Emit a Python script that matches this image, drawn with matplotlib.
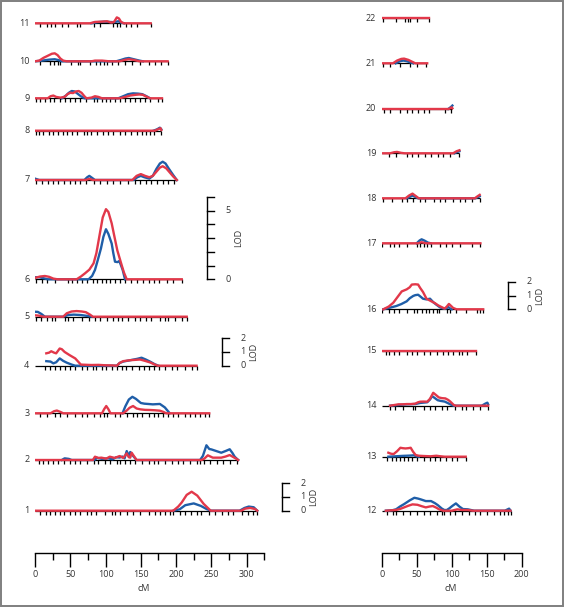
import matplotlib
matplotlib.use("Agg")
import matplotlib.pyplot as plt
import matplotlib.patches as patches
import numpy as np

plt.rcParams['font.family'] = ['Open Sans', 'DejaVu Sans']

BLUE = '#1f5ea8'
RED = '#e2384a'
TXT = '#333333'

# chromosome lengths (cM)
length = {1: 315, 2: 288, 3: 247, 4: 229, 5: 215, 6: 208, 7: 201, 8: 179, 9: 180, 10: 188, 11: 164,
          12: 184, 13: 120, 14: 152, 15: 134, 16: 145, 17: 141, 18: 140, 19: 111, 20: 101, 21: 65, 22: 67}

# marker positions (cM)
mk1 = [7, 16, 21, 28, 35, 41, 50, 57, 64, 73, 80, 87, 99, 109, 113, 120, 130, 139, 149, 161, 170, 177,
       184, 191, 196, 205, 213, 221, 229, 236, 246, 255, 265, 274, 281, 293, 302, 309, 315]
mk2 = [5, 12, 19, 26, 33, 41, 50, 57, 64, 73, 83, 90, 99, 106, 116, 121, 128, 135, 142, 151, 161, 168,
       175, 184, 194, 203, 210, 220, 229, 234, 240, 248, 258, 267, 276, 287]
mk3 = [7, 17, 28, 36, 45, 57, 66, 74, 83, 92, 98, 102, 113, 121, 130, 139, 144, 151, 161, 168, 175,
       182, 189, 196, 203, 213, 220, 227, 234, 241, 247]
mk4 = [14, 21, 28, 36, 43, 50, 57, 66, 74, 82, 87, 95, 101, 109, 116, 123, 129, 137, 147, 154, 161,
       168, 176, 184, 194, 201, 213, 222, 229]
mk5 = [1, 8, 17, 24, 28, 43, 47, 54, 66, 76, 85, 92, 102, 111, 118, 123, 132, 142, 149, 158, 165,
       177, 184, 189, 199, 208, 215]
mk6 = [1, 10, 17, 28, 47, 52, 59, 66, 74, 82, 88, 95, 101, 106, 113, 121, 128, 136, 144, 153, 161,
       169, 176, 187, 196, 208]
mk7 = [1, 10, 18, 26, 33, 41, 50, 57, 64, 72, 83, 92, 102, 111, 121, 132, 142, 149, 157, 165, 173,
       181, 189, 197]
mk8 = [1, 6, 12, 20, 26, 33, 40, 45, 53, 60, 69, 74, 80, 88, 97, 104, 111, 120, 128, 136, 144, 151,
       158, 163, 168, 179]
mk9 = [1, 7, 14, 21, 27, 36, 43, 50, 57, 64, 72, 83, 88, 95, 101, 106, 113, 121, 128, 135, 142, 149,
       156, 163, 175, 180]
mk10 = [7, 21, 27, 32, 36, 51, 61, 64, 78, 87, 92, 98, 102, 109, 118, 128, 137, 149, 161, 170, 178, 188]
mk11 = [7, 17, 22, 28, 38, 47, 60, 64, 83, 92, 111, 116, 120, 129, 136, 144, 164]
mk12 = [7, 16, 21, 31, 40, 50, 60, 69, 79, 86, 89, 98, 105, 114, 124, 133, 140, 150, 160, 169, 174,
        181, 184]
mk13 = [7, 14, 21, 26, 32, 38, 43, 51, 60, 69, 76, 83, 92, 101, 108, 120]
mk14 = [12, 19, 31, 45, 48, 60, 69, 76, 86, 93, 105, 114, 121, 131, 140, 152]
mk15 = [6, 11, 17, 25, 36, 43, 51, 60, 69, 79, 87, 95, 102, 110, 114, 122, 134]
mk16 = [1, 11, 18, 25, 36, 46, 51, 57, 63, 68, 73, 79, 82, 93, 98, 106, 121, 136, 141, 145]
mk17 = [1, 12, 17, 25, 36, 51, 55, 60, 64, 71, 83, 92, 101, 112, 129, 141]
mk18 = [2, 14, 29, 36, 44, 55, 62, 74, 83, 90, 102, 112, 119, 129, 140]
mk19 = [10, 21, 36, 43, 52, 62, 71, 81, 88, 98, 110]
mk20 = [3, 12, 26, 36, 43, 52, 60, 68, 90, 99]
mk21 = [2, 12, 26, 41, 51, 63]
mk22 = [2, 21, 33, 37, 40, 51, 67]

# LOD curves, (cM, LOD)
blue1 = [(196, 0), (205, 0.1), (213, 0.4), (225, 0.53), (235, 0.35), (244, 0.1), (250, 0),
         (290, 0), (297, 0.2), (303, 0.3), (310, 0.25), (315, 0)]
red1 = [(0, 0), (196, 0), (203, 0.3), (208, 0.6), (215, 1.15), (222, 1.38), (230, 1.1), (239, 0.5),
        (249, 0), (292, 0), (298, 0.15), (305, 0.2), (312, 0.12), (315, 0)]
blue2 = [(38, 0), (42, 0.12), (48, 0.08), (52, 0), (84, 0), (88, 0.15), (95, 0.08), (104, 0.12),
         (110, 0.05), (115, 0.2), (120, 0.18), (124, 0.25), (127, 0.12), (130, 0.65), (133, 0.3),
         (135, 0.58), (139, 0.3), (144, 0), (234, 0), (238, 0.3), (243, 1.07), (247, 0.8), (250, 0.77),
         (257, 0.65), (264, 0.53), (270, 0.65), (276, 0.78), (280, 0.5), (283, 0.24), (288, 0)]
red2 = [(0, 0), (82, 0), (85, 0.24), (90, 0.15), (94, 0.17), (101, 0.1), (106, 0.24), (113, 0.15),
        (120, 0.29), (125, 0.15), (130, 0.48), (133, 0.2), (135, 0.17), (137, 0.53), (140, 0.3),
        (144, 0), (236, 0), (240, 0.1), (245, 0.34), (252, 0.17), (264, 0.17), (270, 0.25), (276, 0.36),
        (285, 0.1), (288, 0)]
blue3 = [(124, 0), (128, 0.5), (133, 1.0), (138, 1.2), (143, 1.05), (150, 0.75), (155, 0.7),
         (160, 0.68), (167, 0.65), (177, 0.68), (184, 0.43), (191, 0)]
red3 = [(0, 0), (22, 0), (27, 0.15), (31, 0.2), (36, 0.1), (40, 0), (95, 0), (98, 0.3), (101, 0.53),
        (104, 0.3), (107, 0), (125, 0), (130, 0.2), (134, 0.4), (139, 0.53), (144, 0.35), (149, 0.29),
        (156, 0.25), (163, 0.24), (170, 0.22), (177, 0.19), (182, 0.1), (186, 0), (247, 0)]
blue4 = [(16, 0.33), (22, 0.3), (26, 0.17), (30, 0.25), (35, 0.53), (40, 0.35), (45, 0.22),
         (52, 0.08), (57, 0), (116, 0), (120, 0.2), (125, 0.3), (135, 0.4), (145, 0.5), (151, 0.58),
         (157, 0.45), (163, 0.3), (170, 0.1), (175, 0)]
red4 = [(16, 0.9), (20, 0.95), (23, 1.05), (27, 0.95), (30, 0.9), (35, 1.25), (38, 1.2), (42, 1.0),
        (49, 0.77), (57, 0.53), (62, 0.25), (65, 0.08), (80, 0.05), (90, 0.06), (100, 0.03), (110, 0.02),
        (116, 0), (120, 0.2), (125, 0.33), (135, 0.4), (149, 0.45), (156, 0.35), (163, 0.24),
        (170, 0.08), (174, 0), (229, 0)]
blue5 = [(0, 0.36), (4, 0.35), (9, 0.2), (14, 0), (40, 0), (47, 0.12), (55, 0.15), (65, 0.12),
         (75, 0.05), (80, 0)]
red5 = [(0, 0.1), (5, 0.08), (12, 0), (40, 0), (45, 0.25), (52, 0.38), (59, 0.41), (66, 0.38),
        (72, 0.33), (78, 0.15), (82, 0), (215, 0)]
blue6 = [(0, 0.15), (6, 0.15), (12, 0.08), (18, 0), (76, 0), (81, 0.25), (85, 0.68), (89, 1.4),
         (93.5, 2.25), (97, 3.1), (100.6, 3.64), (104, 3.3), (108.7, 2.6), (111, 1.9), (113.4, 1.28),
         (117, 1.25), (119.5, 1.33), (122, 1.0), (124.3, 0.68), (127.6, 0)]
red6 = [(0, 0.1), (7, 0.2), (14, 0.24), (20, 0.18), (26, 0.05), (32, 0), (59, 0), (65, 0.2),
        (71, 0.44), (77, 0.7), (83, 1.16), (87, 1.9), (92, 3.35), (96, 4.5), (100.6, 5.1), (104, 4.9),
        (108.7, 4.07), (113, 3.0), (116.7, 2.1), (122.8, 1.04), (126, 0.5), (130, 0), (208, 0)]
blue7 = [(0, 0.1), (3, 0.05), (6, 0), (70, 0), (74, 0.2), (77, 0.3), (81, 0.15), (85, 0), (140, 0),
         (145, 0.2), (150, 0.3), (155, 0.2), (162, 0.1), (167, 0.3), (172, 0.8), (177, 1.2),
         (181, 1.33), (185, 1.2), (190, 0.8), (196, 0.35), (201, 0)]
red7 = [(0, 0), (72, 0), (77, 0.08), (82, 0), (138, 0), (144, 0.3), (150, 0.43), (156, 0.3),
        (162, 0.2), (167, 0.3), (172, 0.6), (177, 0.9), (181, 1.0), (186, 0.85), (191, 0.55),
        (196, 0.25), (201, 0)]
blue8 = [(168, 0), (173, 0.1), (177, 0.22), (179, 0.1)]
red8 = [(0, 0), (170, 0), (175, 0.12), (178, 0.18), (179, 0.05)]
blue9 = [(38, 0), (44, 0.2), (48, 0.4), (52, 0.53), (56, 0.5), (60, 0.35), (65, 0.15), (70, 0),
         (118, 0), (125, 0.15), (132, 0.3), (139, 0.36), (146, 0.34), (152, 0.3), (158, 0.15), (163, 0)]
red9 = [(0, 0), (18, 0), (22, 0.15), (26, 0.2), (30, 0.1), (36, 0.05), (42, 0.1), (46, 0.3), (50, 0.4),
        (54, 0.38), (58, 0.5), (62, 0.53), (66, 0.4), (70, 0.15), (73, 0), (80, 0.05), (85, 0.15),
        (90, 0.1), (95, 0), (120, 0), (128, 0.1), (135, 0.2), (142, 0.25), (148, 0.28), (153, 0.25),
        (158, 0.12), (163, 0), (180, 0)]
blue10 = [(0, 0), (10, 0.05), (20, 0.12), (28, 0.15), (34, 0.08), (38, 0), (115, 0), (122, 0.1),
          (128, 0.2), (133, 0.24), (140, 0.15), (148, 0.05), (153, 0)]
red10 = [(0, 0), (6, 0.05), (12, 0.25), (18, 0.4), (24, 0.55), (28, 0.58), (32, 0.45), (36, 0.2),
         (40, 0.05), (45, 0), (80, 0), (85, 0.05), (95, 0.05), (105, 0), (120, 0), (127, 0.1),
         (133, 0.15), (140, 0.1), (148, 0), (188, 0)]
blue11 = [(80, 0), (88, 0.08), (98, 0.12), (105, 0.1), (112, 0.08), (118, 0.15), (122, 0.05), (126, 0)]
red11 = [(0, 0), (78, 0), (85, 0.1), (95, 0.12), (102, 0.15), (108, 0.05), (112, 0.1), (116, 0.43),
         (119, 0.35), (122, 0.1), (126, 0), (164, 0)]
blue12 = [(6, 0), (15, 0.03), (20.5, 0.1), (26, 0.3), (32, 0.48), (40, 0.75), (46.7, 0.94), (52, 0.88),
          (56, 0.82), (63, 0.7), (70.5, 0.7), (76, 0.55), (80, 0.41), (86, 0.15), (89.5, 0.05),
          (93, 0.05), (96.6, 0.17), (101, 0.35), (106, 0.53), (111, 0.3), (116, 0.12), (123, 0.1),
          (132, 0), (176, 0), (180, 0.1), (182, 0.15), (184, 0)]
red12 = [(6, 0), (20, 0.05), (26, 0.12), (32, 0.24), (38, 0.36), (44, 0.46), (51, 0.43), (57, 0.33),
         (63, 0.24), (68, 0.3), (73, 0.34), (78, 0.22), (82, 0.1), (88, 0), (100, 0), (104, 0.05),
         (108, 0.1), (115, 0.05), (123, 0.05), (130, 0), (184, 0)]
blue13 = [(9.5, 0), (20, 0.03), (30, 0.06), (40, 0.08), (46, 0.1), (50, 0.02), (53, 0)]
red13 = [(9.5, 0.29), (13, 0.22), (17, 0.19), (22, 0.4), (26.7, 0.65), (30, 0.62), (34, 0.6),
         (38, 0.62), (41.4, 0.65), (45, 0.35), (48.6, 0.12), (53, 0.07), (60, 0.05), (70, 0.03),
         (78, 0.07), (84, 0.03), (90, 0), (120, 0)]
blue14 = [(12, 0), (24, 0.05), (36, 0.1), (48, 0.12), (55, 0.2), (65, 0.25), (69, 0.45), (72, 0.7),
          (76, 0.55), (80, 0.4), (84, 0.35), (90, 0.3), (96, 0.15), (100, 0.05), (103, 0), (143, 0),
          (148, 0.15), (151, 0.22), (152, 0.1)]
red14 = [(12, 0), (18, 0.05), (24, 0.1), (30, 0.1), (36, 0.12), (42, 0.12), (48, 0.15), (52, 0.25),
         (55, 0.29), (60, 0.3), (65, 0.29), (69, 0.5), (73.6, 0.94), (77, 0.8), (81.7, 0.6), (86, 0.55),
         (91, 0.53), (95, 0.42), (98, 0.3), (103, 0.05), (106, 0), (152, 0)]
blue15 = []
red15 = [(0, 0), (134, 0)]
blue16 = [(2.3, 0), (12, 0.12), (21, 0.24), (28, 0.38), (35.7, 0.58), (40, 0.8), (45, 0.97), (48, 1.03),
          (52, 1.06), (56, 0.9), (59, 0.77), (64, 0.72), (69, 0.77), (74, 0.5), (78, 0.34), (83, 0.15),
          (88, 0.05), (92, 0.05), (95, 0.17), (98, 0.05), (100, 0)]
red16 = [(2.3, 0), (10, 0.2), (16.6, 0.48), (22, 0.85), (28.6, 1.3), (35.7, 1.45), (40, 1.6), (43, 1.8),
         (48, 1.82), (52, 1.8), (55, 1.55), (59, 1.26), (64, 0.77), (71, 0.58), (76, 0.45), (80.5, 0.29),
         (86, 0.15), (90, 0.05), (93, 0.2), (96, 0.39), (99, 0.25), (102, 0.1), (107, 0), (145, 0)]
blue17 = [(50, 0), (54, 0.2), (57, 0.29), (61, 0.2), (66, 0.05), (70, 0)]
red17 = [(0, 0), (52, 0), (57, 0.08), (63, 0), (141, 0)]
blue18 = [(36, 0), (40, 0.1), (44, 0.2), (48, 0.1), (52, 0), (134, 0), (138, 0.1), (140, 0.15)]
red18 = [(0, 0), (34, 0), (39, 0.2), (44, 0.34), (49, 0.15), (53, 0), (133, 0), (137, 0.15), (140, 0.25)]
blue19 = [(104, 0), (108, 0.1), (111, 0.15)]
red19 = [(0, 0), (12, 0), (18, 0.08), (22, 0.1), (28, 0.03), (33, 0), (102, 0), (107, 0.15), (111, 0.22)]
blue20 = [(95, 0), (99, 0.15), (101, 0.25)]
red20 = [(0, 0), (96, 0), (100, 0.12), (101, 0.05)]
blue21 = [(20, 0), (26, 0.15), (31, 0.2), (36, 0.15), (42, 0.05), (45, 0)]
red21 = [(0, 0), (16, 0), (22, 0.2), (28, 0.32), (32, 0.34), (38, 0.25), (44, 0.1), (48, 0), (65, 0)]
blue22 = []
red22 = [(0, 0), (67, 0)]

markers = [None, mk1, mk2, mk3, mk4, mk5, mk6, mk7, mk8, mk9, mk10, mk11,
           mk12, mk13, mk14, mk15, mk16, mk17, mk18, mk19, mk20, mk21, mk22]
blues = [None, blue1, blue2, blue3, blue4, blue5, blue6, blue7, blue8, blue9, blue10, blue11,
         blue12, blue13, blue14, blue15, blue16, blue17, blue18, blue19, blue20, blue21, blue22]
reds = [None, red1, red2, red3, red4, red5, red6, red7, red8, red9, red10, red11,
        red12, red13, red14, red15, red16, red17, red18, red19, red20, red21, red22]

# layout (pixels from top of a 565x607 canvas)
W, H = 565, 607
PX_LOD = 13.75
AX_Y = 552.5
left_rows = {11: 23.3, 10: 61.3, 9: 98.3, 8: 130.7, 7: 180, 6: 279.3, 5: 316.7, 4: 365.7,
             3: 413.3, 2: 460, 1: 510.7}
right_rows = {22: 18.3, 21: 63.3, 20: 109, 19: 153.3, 18: 198.3, 17: 243.3, 16: 309.3,
              15: 350.7, 14: 405.7, 13: 456.7, 12: 510.7}

fig = plt.figure(figsize=(W / 100, H / 100), dpi=100)


def panel(x0, px_cm, xmax, major):
    ax = fig.add_axes([x0 / W, (H - AX_Y) / H, xmax * px_cm / W, AX_Y / H])
    ax.set_xlim(0, xmax)
    ax.set_ylim(0, AX_Y / PX_LOD)
    for s in ['top', 'left', 'right']:
        ax.spines[s].set_visible(False)
    ax.spines['bottom'].set_linewidth(1.0)
    ax.set_yticks([])
    ax.set_xticks(np.arange(0, xmax + 1, major))
    ax.set_xticks(np.arange(major / 2, xmax + 1, major), minor=True)
    ax.tick_params(which='major', length=10, width=1.0, labelsize=6.5, pad=2.5, labelcolor=TXT)
    ax.tick_params(which='minor', length=4.8, width=1.0)
    ax.patch.set_visible(False)
    return ax


def chrom(ax, c, ypx):
    b = (AX_Y - ypx) / PX_LOD
    ax.plot([0, length[c]], [b, b], color='k', lw=0.9, solid_capstyle='butt')
    ax.vlines(markers[c], b - 4 / PX_LOD, b, color='k', lw=0.9)
    if blues[c]:
        x, y = zip(*blues[c])
        ax.plot(x, b + np.array(y), color=BLUE, lw=1.7, solid_joinstyle='round')
    x, y = zip(*reds[c])
    ax.plot(x, b + np.array(y), color=RED, lw=1.7, solid_joinstyle='round')
    ax.annotate(str(c), xy=(0, b), xytext=(-4, 0), textcoords='offset points',
                ha='right', va='center', fontsize=6.5, color=TXT)


def lod_bar(ax, x, ypx, top, labels, px_cm):
    b = (AX_Y - ypx) / PX_LOD
    tick = 7.5 / px_cm
    ax.plot([x, x], [b, b + top], color='k', lw=1.0, clip_on=False)
    for v in range(top + 1):
        ax.plot([x, x + tick], [b + v, b + v], color='k', lw=1.0, clip_on=False)
    for v in labels:
        ax.annotate(str(v), xy=(x, b + v), xytext=(15.1, 0), textcoords='offset points',
                    ha='center', va='center', fontsize=6.5, color=TXT, annotation_clip=False)
    ax.annotate('LOD', xy=(x, b + top / 2), xytext=(23, 0), textcoords='offset points',
                ha='center', va='center', rotation=90, fontsize=6.5, color=TXT,
                annotation_clip=False)


axl = panel(35, 0.7055, 325, 50)
axr = panel(381.7, 0.70, 200, 50)

for c, y in left_rows.items():
    chrom(axl, c, y)
for c, y in right_rows.items():
    chrom(axr, c, y)

lod_bar(axl, (206.7 - 35) / 0.7055, left_rows[6], 6, [5, 0], 0.7055)
lod_bar(axl, (221.7 - 35) / 0.7055, left_rows[4], 2, [2, 1, 0], 0.7055)
lod_bar(axl, (281.7 - 35) / 0.7055, left_rows[1], 2, [2, 1, 0], 0.7055)
lod_bar(axr, (507.7 - 381.7) / 0.70, right_rows[16], 2, [2, 1, 0], 0.70)

for ax, xc in [(axl, 154.5), (axr, 98)]:
    ax.annotate('cM', xy=(xc, 0), xytext=(0, -25.8), textcoords='offset points',
                ha='center', va='center', fontsize=6.5, color=TXT, annotation_clip=False)

fig.patches.append(patches.Rectangle((1 / W, 1.5 / H), 562 / W, 604.5 / H, transform=fig.transFigure,
                                     fill=False, edgecolor='#7f7f7f', lw=1.4))

fig.savefig('out.png', dpi=100)
